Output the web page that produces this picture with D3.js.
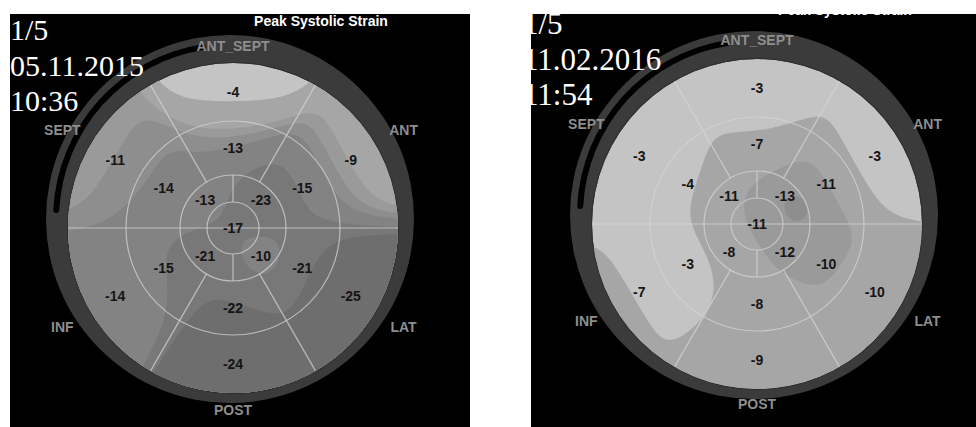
<!DOCTYPE html>
<html>
<head>
<meta charset="utf-8">
<script src="https://cdn.jsdelivr.net/npm/d3@7"></script>
<style>
  body { margin: 0; background: #fff; }
  svg { display: block; }
</style>
</head>
<body>
<svg id="chart" width="976" height="427"></svg>
<script>
// ---- data ----
const title = "Peak Systolic Strain";
const orientLabels = ["ANT_SEPT", "ANT", "LAT", "POST", "INF", "SEPT"]; // clockwise from top

// left study
const leftInfo = ["1/5", "05.11.2015", "10:36"];
const leftBasal = [-4, -9, -25, -24, -14, -11];   // same order as orientLabels
const leftMid = [-13, -15, -21, -22, -15, -14];
const leftApical = [-23, -10, -21, -13];           // upper-right, lower-right, lower-left, upper-left
const leftApex = -17;

// right study
const rightInfo = ["1/5", "11.02.2016", "11:54"];
const rightBasal = [-3, -3, -10, -9, -7, -3];
const rightMid = [-7, -11, -10, -8, -3, -4];
const rightApical = [-13, -12, -8, -11];
const rightApex = -11;

// grey levels for strain magnitude bands
const bandThresholds = [6.5, 10.3, 11.5, 13, 16.5, 20];
const bandColors = ["#c4c4c4", "#a6a6a6", "#9a9a9a", "#8e8e8e", "#838383", "#787878", "#6e6e6e"];

const svg = d3.select("#chart");
const defs = svg.append("defs");

const panels = [
  { id: "L", x0: 10, x1: 470, cx: 233, cy: 228, textX: 10, fs: 30, dy: 0, titleY: 26, info: leftInfo,
    basal: leftBasal, mid: leftMid, apical: leftApical, apex: leftApex },
  { id: "R", x0: 531, x1: 976, cx: 757, cy: 224, textX: 523, fs: 31, dy: -6, titleY: 15, info: rightInfo,
    basal: rightBasal, mid: rightMid, apical: rightApical, apex: rightApex }
];

const rApex = 26, rApical = 53, rMid = 107, R = 165;
const rad = d => d * Math.PI / 180;
const sigma = 32;

panels.forEach(p => {
  // black panel + clip
  defs.append("clipPath").attr("id", "panel" + p.id)
    .append("rect").attr("x", p.x0).attr("y", 14).attr("width", p.x1 - p.x0).attr("height", 413);
  defs.append("clipPath").attr("id", "disk" + p.id)
    .append("circle").attr("cx", p.cx).attr("cy", p.cy).attr("r", R);

  const g = svg.append("g").attr("clip-path", `url(#panel${p.id})`);
  g.append("rect").attr("x", p.x0).attr("y", 14).attr("width", p.x1 - p.x0).attr("height", 413).attr("fill", "#000");

  // dark outer ring, a bit off-centre like the scanner output
  const rcx = p.cx - 3, rcy = p.cy - 9;
  g.append("circle").attr("cx", rcx).attr("cy", rcy).attr("r", 184).attr("fill", "#3b3b3b");
  g.append("path")
    .attr("transform", `translate(${rcx},${rcy})`)
    .attr("d", d3.arc().innerRadius(171).outerRadius(177).cornerRadius(3)
      .startAngle(rad(-88)).endAngle(rad(-8))())
    .attr("fill", "#000");
  g.append("circle").attr("cx", p.cx).attr("cy", p.cy).attr("r", R + 1).attr("fill", "#2e2e2e");

  // segment centres (relative to disk centre)
  const pts = [];
  p.basal.forEach((v, i) => {
    const a = rad(i * 60), r = (rMid + R) / 2;
    pts.push({ x: r * Math.sin(a), y: -r * Math.cos(a), v });
  });
  p.mid.forEach((v, i) => {
    const a = rad(i * 60), r = (rApical + rMid) / 2;
    pts.push({ x: r * Math.sin(a), y: -r * Math.cos(a), v });
  });
  p.apical.forEach((v, i) => {
    const a = rad(45 + i * 90), r = (rApex + rApical) / 2;
    pts.push({ x: r * Math.sin(a), y: -r * Math.cos(a), v });
  });
  pts.push({ x: 0, y: 0, v: p.apex });

  // smooth map: gaussian kernel weighting of the segment values
  const n = 110, k = 2 * R / n;
  const grid = new Array(n * n);
  for (let j = 0; j < n; j++) {
    for (let i = 0; i < n; i++) {
      const x = -R + (i + 0.5) * k, y = -R + (j + 0.5) * k;
      let ws = 0, vs = 0;
      pts.forEach(q => {
        const d2 = (x - q.x) ** 2 + (y - q.y) ** 2;
        const w = Math.exp(-d2 / (2 * sigma * sigma)) + 1e-12;
        ws += w; vs += w * (-q.v);
      });
      grid[j * n + i] = vs / ws;
    }
  }
  const contours = d3.contours().size([n, n]).thresholds(bandThresholds)(grid);
  const path = d3.geoPath(d3.geoIdentity().scale(k).translate([p.cx - R, p.cy - R]));

  const disk = g.append("g").attr("clip-path", `url(#disk${p.id})`);
  disk.append("circle").attr("cx", p.cx).attr("cy", p.cy).attr("r", R).attr("fill", bandColors[0]);
  disk.selectAll("path.band").data(contours).join("path")
    .attr("class", "band")
    .attr("d", path)
    .attr("fill", (d, i) => bandColors[i + 1]);

  // segment grid lines
  const lines = g.append("g").attr("stroke", "#d4d4d4").attr("stroke-width", 1.2)
    .attr("stroke-opacity", 0.75).attr("fill", "none");
  [rApex, rApical, rMid].forEach(r =>
    lines.append("circle").attr("cx", p.cx).attr("cy", p.cy).attr("r", r));
  lines.append("line").attr("x1", p.cx - R).attr("x2", p.cx + R).attr("y1", p.cy).attr("y2", p.cy);
  [0, 180].forEach(d => {
    const a = rad(d);
    lines.append("line")
      .attr("x1", p.cx + rApex * Math.sin(a)).attr("y1", p.cy - rApex * Math.cos(a))
      .attr("x2", p.cx + rApical * Math.sin(a)).attr("y2", p.cy - rApical * Math.cos(a));
  });
  [30, 150, 210, 330].forEach(d => {
    const a = rad(d);
    lines.append("line")
      .attr("x1", p.cx + rApical * Math.sin(a)).attr("y1", p.cy - rApical * Math.cos(a))
      .attr("x2", p.cx + R * Math.sin(a)).attr("y2", p.cy - R * Math.cos(a));
  });

  // segment values
  g.append("g").selectAll("text").data(pts).join("text")
    .attr("x", d => p.cx + d.x)
    .attr("y", d => p.cy + d.y)
    .attr("text-anchor", "middle")
    .attr("dominant-baseline", "central")
    .attr("font-family", "Liberation Sans, Arial, sans-serif")
    .attr("font-weight", "bold")
    .attr("font-size", 14)
    .attr("fill", "#151515")
    .text(d => d.v);

  // wall names around the ring
  g.append("g").selectAll("text").data(orientLabels).join("text")
    .attr("x", (d, i) => p.cx + 197 * Math.sin(rad(i * 60)))
    .attr("y", (d, i) => p.cy + p.dy / 3 - (i % 3 === 0 ? 182 : 197) * Math.cos(rad(i * 60)))
    .attr("text-anchor", "middle")
    .attr("dominant-baseline", "central")
    .attr("font-family", "Liberation Sans, Arial, sans-serif")
    .attr("font-weight", "bold")
    .attr("font-size", 14)
    .attr("fill", "#8e8e8e")
    .text(d => d);

  // title
  g.append("text")
    .attr("x", p.cx + 88).attr("y", p.titleY)
    .attr("text-anchor", "middle")
    .attr("font-family", "Liberation Sans, Arial, sans-serif")
    .attr("font-weight", "bold")
    .attr("font-size", 14)
    .attr("fill", "#fff")
    .text(title);

  // study info
  g.append("g").selectAll("text").data(p.info).join("text")
    .attr("x", p.textX)
    .attr("y", (d, i) => [40, 76, 111][i] + p.dy)
    .attr("font-family", "Liberation Serif, Times New Roman, serif")
    .attr("font-size", p.fs)
    .attr("fill", "#fff")
    .text(d => d);
});
</script>
</body>
</html>
